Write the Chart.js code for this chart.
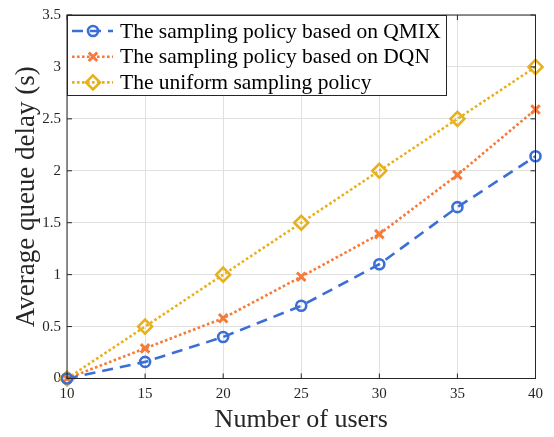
<!DOCTYPE html>
<html>
<head>
<meta charset="utf-8">
<script src="https://cdn.jsdelivr.net/npm/chart.js@4.4.1/dist/chart.umd.min.js"></script>
<style>
body { margin: 0; background: #fff; }
</style>
</head>
<body>
<canvas id="delayChart" width="554" height="437"></canvas>
<script>
var users = [10, 15, 20, 25, 30, 35, 40];
var qmixDelay = [0, 0.16, 0.40, 0.70, 1.10, 1.65, 2.14];
var dqnDelay = [0, 0.29, 0.58, 0.98, 1.39, 1.96, 2.59];
var uniformDelay = [0, 0.5, 1.0, 1.5, 2.0, 2.5, 3.0];
var seriesNames = [
    "The sampling policy based on QMIX",
    "The sampling policy based on DQN",
    "The uniform sampling policy"
];
var xTitle = "Number of users";
var yTitle = "Average queue delay (s)";

var serif = "'Liberation Serif', 'Times New Roman', serif";
var axisColor = "#262626";

function toPoints(ys) {
    return users.map((u, i) => ({ x: u, y: ys[i] }));
}

// draws a marker like the one on the line, used by the legend
function marker(ctx, style, x, y, r, color, w) {
    ctx.save();
    ctx.setLineDash([]);
    ctx.strokeStyle = color;
    ctx.lineWidth = w;
    ctx.beginPath();
    if (style == "circle") {
        ctx.arc(x, y, r, 0, Math.PI * 2);
    } else if (style == "crossRot") {
        var d = r * Math.SQRT1_2;
        ctx.moveTo(x - d, y - d); ctx.lineTo(x + d, y + d);
        ctx.moveTo(x + d, y - d); ctx.lineTo(x - d, y + d);
    } else {
        ctx.moveTo(x, y - r); ctx.lineTo(x + r, y);
        ctx.lineTo(x, y + r); ctx.lineTo(x - r, y);
        ctx.closePath();
    }
    ctx.stroke();
    ctx.restore();
}

var framePlugin = {
    id: "frame",
    afterDraw(chart) {
        var ctx = chart.ctx;
        var a = chart.chartArea;
        var xs = chart.scales.x, ys = chart.scales.y;
        ctx.save();
        ctx.strokeStyle = axisColor;
        ctx.lineWidth = 1;
        ctx.strokeRect(a.left, a.top, a.right - a.left, a.bottom - a.top);
        // inward ticks on all four sides
        ctx.beginPath();
        xs.ticks.forEach(t => {
            var px = xs.getPixelForValue(t.value);
            ctx.moveTo(px, a.bottom); ctx.lineTo(px, a.bottom - 5);
            ctx.moveTo(px, a.top); ctx.lineTo(px, a.top + 5);
        });
        ys.ticks.forEach(t => {
            var py = ys.getPixelForValue(t.value);
            ctx.moveTo(a.left, py); ctx.lineTo(a.left + 5, py);
            ctx.moveTo(a.right, py); ctx.lineTo(a.right - 5, py);
        });
        ctx.stroke();

        // legend box in the upper left corner
        var bx = a.left, by = a.top, bw = 379, bh = 80;
        ctx.fillStyle = "#fff";
        ctx.fillRect(bx, by, bw, bh);
        ctx.strokeStyle = axisColor;
        ctx.strokeRect(bx + 0.5, by + 0.5, bw, bh);
        ctx.font = "21.5px " + serif;
        ctx.textBaseline = "middle";
        chart.data.datasets.forEach((ds, i) => {
            var ly = by + 16 + i * 25.7;
            ctx.save();
            ctx.strokeStyle = ds.borderColor;
            ctx.lineWidth = ds.borderWidth;
            ctx.setLineDash(ds.borderDash);
            ctx.beginPath();
            ctx.moveTo(bx + 5, ly);
            ctx.lineTo(bx + 46, ly);
            ctx.stroke();
            ctx.restore();
            marker(ctx, ds.pointStyle, bx + 26, ly, ds.pointRadius, ds.borderColor, ds.pointBorderWidth);
            ctx.fillStyle = "#000";
            ctx.fillText(seriesNames[i], bx + 53, ly + 1);
        });
        ctx.restore();
    }
};

new Chart(document.getElementById("delayChart"), {
    type: "line",
    data: {
        datasets: [{
            label: seriesNames[0],
            data: toPoints(qmixDelay),
            borderColor: "#3b6fd6",
            borderWidth: 2.6,
            borderDash: [11, 7],
            pointStyle: "circle",
            pointRadius: 5,
            pointBorderWidth: 2.6,
            pointBackgroundColor: "transparent",
            pointBorderColor: "#3b6fd6",
            clip: false
        }, {
            label: seriesNames[1],
            data: toPoints(dqnDelay),
            borderColor: "#f47b3a",
            borderWidth: 2.6,
            borderDash: [2.6, 2.4],
            pointStyle: "crossRot",
            pointRadius: 6,
            pointBorderWidth: 3,
            pointBackgroundColor: "transparent",
            pointBorderColor: "#f47b3a",
            clip: false
        }, {
            label: seriesNames[2],
            data: toPoints(uniformDelay),
            borderColor: "#e8b11c",
            borderWidth: 2.6,
            borderDash: [2.6, 2.4],
            pointStyle: "rectRot",
            pointRadius: 7,
            pointBorderWidth: 2.6,
            pointBackgroundColor: "transparent",
            pointBorderColor: "#e8b11c",
            clip: false
        }]
    },
    options: {
        responsive: false,
        animation: false,
        layout: { padding: { top: 11, right: 18.5, left: 0, bottom: 0 } },
        plugins: {
            legend: { display: false },
            tooltip: { enabled: false }
        },
        scales: {
            x: {
                type: "linear",
                min: 10,
                max: 40,
                afterFit: (s) => { s.height = 58.5; },
                ticks: {
                    stepSize: 5,
                    padding: 7,
                    color: axisColor,
                    font: { family: serif, size: 15 }
                },
                grid: { color: "#e0e0e0", drawTicks: false },
                border: { display: false },
                title: {
                    display: true,
                    text: xTitle,
                    color: axisColor,
                    font: { family: serif, size: 26, lineHeight: 1 },
                    padding: { top: 0, bottom: 3.5 }
                }
            },
            y: {
                min: 0,
                max: 3.5,
                afterFit: (s) => { s.width = 67; },
                ticks: {
                    stepSize: 0.5,
                    padding: 6,
                    color: axisColor,
                    font: { family: serif, size: 15 },
                    callback: (v) => String(v)
                },
                grid: { color: "#e0e0e0", drawTicks: false },
                border: { display: false },
                title: {
                    display: true,
                    text: yTitle,
                    color: axisColor,
                    font: { family: serif, size: 27, lineHeight: 1 },
                    padding: { top: 13, bottom: 0 }
                }
            }
        }
    },
    plugins: [framePlugin]
});
</script>
</body>
</html>
